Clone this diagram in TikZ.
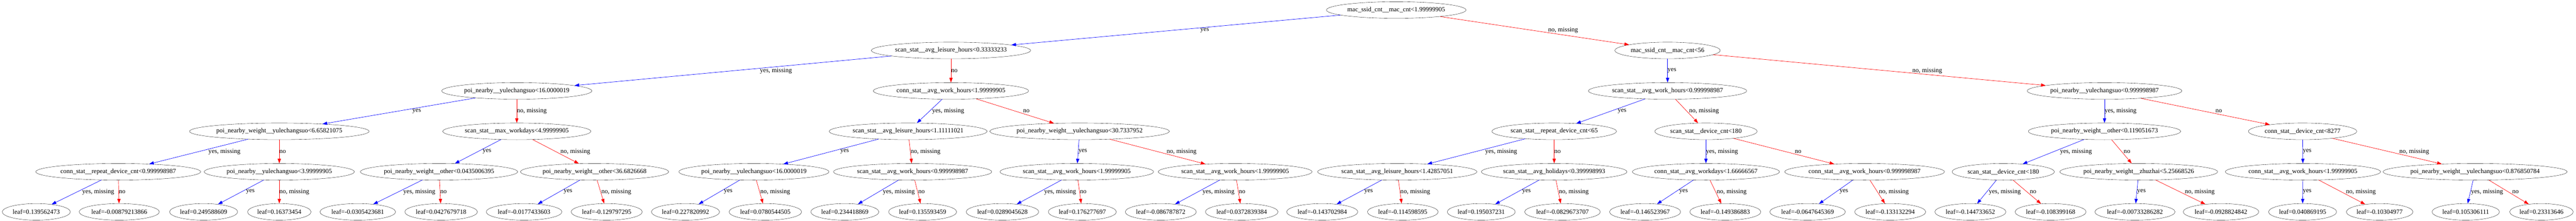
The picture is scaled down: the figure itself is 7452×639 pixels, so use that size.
\documentclass[tikz,border=0pt]{standalone}
\usepackage{fontspec}
\setmainfont{Liberation Serif}
\usetikzlibrary{arrows.meta,calc,shapes.geometric}

\newcommand{\treefont}{\fontsize{14pt}{16pt}\selectfont}
% parent, child, edge style, label
\newcommand{\treeedge}[4]{%
  \draw[#3] (#1) -- (#2);
  \path let \p1=(#1), \p2=(#2), \n1={0.06*abs(\x2-\x1)} in
    node[edgelbl, xshift=\n1] at ($(\p1)!0.5!(\p2)$) {#4};
}

\tikzset{
  split/.style={draw, ellipse, inner xsep=1pt, inner ysep=0pt, minimum height=36pt, font=\treefont},
  leafnode/.style={split},
  yesedge/.style={draw=blue, line width=0.75pt, -{Triangle[length=10pt,width=7pt]}},
  noedge/.style={draw=red, line width=0.75pt, -{Triangle[length=10pt,width=7pt]}},
  edgelbl/.style={anchor=west, inner sep=0pt, font=\treefont}
}

\begin{document}
\begin{tikzpicture}[x=0.75pt,y=-0.75pt]
  \useasboundingbox (0,0) rectangle (7452,639);
  \node[split] (0) at (4039,29) {mac\_ssid\_cnt\_\_mac\_cnt<1.99999905};
  \node[split] (1) at (2751,146) {scan\_stat\_\_avg\_leisure\_hours<0.33333233};
  \node[split] (2) at (4824,146) {mac\_ssid\_cnt\_\_mac\_cnt<56};
  \node[split] (3) at (1495,263) {poi\_nearby\_\_yulechangsuo<16.0000019};
  \node[split] (4) at (2751,263) {conn\_stat\_\_avg\_work\_hours<1.99999905};
  \node[split] (5) at (4824,263) {scan\_stat\_\_avg\_work\_hours<0.999998987};
  \node[split] (6) at (6088,263) {poi\_nearby\_\_yulechangsuo<0.999998987};
  \node[split] (7) at (808,380) {poi\_nearby\_weight\_\_yulechangsuo<6.65821075};
  \node[split] (8) at (1495,380) {scan\_stat\_\_max\_workdays<4.99999905};
  \node[split] (9) at (2627,380) {scan\_stat\_\_avg\_leisure\_hours<1.11111021};
  \node[split] (10) at (3123,380) {poi\_nearby\_weight\_\_yulechangsuo<30.7337952};
  \node[split] (11) at (4496,380) {scan\_stat\_\_repeat\_device\_cnt<65};
  \node[split] (12) at (4935,380) {scan\_stat\_\_device\_cnt<180};
  \node[split] (13) at (6088,380) {poi\_nearby\_weight\_\_other<0.119051673};
  \node[split] (14) at (6661,380) {conn\_stat\_\_device\_cnt<8277};
  \node[split] (15) at (342,497) {conn\_stat\_\_repeat\_device\_cnt<0.999998987};
  \node[split] (16) at (808,497) {poi\_nearby\_\_yulechangsuo<3.99999905};
  \node[split] (17) at (1270,497) {poi\_nearby\_weight\_\_other<0.0435006395};
  \node[split] (18) at (1720,497) {poi\_nearby\_weight\_\_other<36.6826668};
  \node[split] (19) at (2181,497) {poi\_nearby\_\_yulechangsuo<16.0000019};
  \node[split] (20) at (2640,497) {scan\_stat\_\_avg\_work\_hours<0.999998987};
  \node[split] (21) at (3115,497) {scan\_stat\_\_avg\_work\_hours<1.99999905};
  \node[split] (22) at (3573,497) {scan\_stat\_\_avg\_work\_hours<1.99999905};
  \node[split] (23) at (4042,497) {scan\_stat\_\_avg\_leisure\_hours<1.42857051};
  \node[split] (24) at (4496,497) {scan\_stat\_\_avg\_holidays<0.399998993};
  \node[split] (25) at (4935,497) {conn\_stat\_\_avg\_workdays<1.66666567};
  \node[split] (26) at (5394,497) {conn\_stat\_\_avg\_work\_hours<0.999998987};
  \node[split] (27) at (5795,497) {scan\_stat\_\_device\_cnt<180};
  \node[split] (28) at (6187,497) {poi\_nearby\_weight\_\_zhuzhai<5.25668526};
  \node[split] (29) at (6662,497) {conn\_stat\_\_avg\_work\_hours<1.99999905};
  \node[split] (30) at (7160,497) {poi\_nearby\_weight\_\_yulechangsuo<0.876850784};
  \node[leafnode] (31) at (105,613) {leaf=0.139562473};
  \node[leafnode] (32) at (345,613) {leaf=-0.00879213866};
  \node[leafnode] (33) at (589,613) {leaf=0.249588609};
  \node[leafnode] (34) at (808,613) {leaf=0.16373454};
  \node[leafnode] (35) at (1035,613) {leaf=-0.0305423681};
  \node[leafnode] (36) at (1276,613) {leaf=0.0427679718};
  \node[leafnode] (37) at (1516,613) {leaf=-0.0177433603};
  \node[leafnode] (38) at (1755,613) {leaf=-0.129797295};
  \node[leafnode] (39) at (1983,613) {leaf=0.227820992};
  \node[leafnode] (40) at (2214,613) {leaf=0.0780544505};
  \node[leafnode] (41) at (2444,613) {leaf=0.234418869};
  \node[leafnode] (42) at (2669,613) {leaf=0.135593459};
  \node[leafnode] (43) at (2900,613) {leaf=0.0289045628};
  \node[leafnode] (44) at (3131,613) {leaf=0.176277697};
  \node[leafnode] (45) at (3358,613) {leaf=-0.086787872};
  \node[leafnode] (46) at (3592,613) {leaf=0.0372839384};
  \node[leafnode] (47) at (3825,613) {leaf=-0.143702984};
  \node[leafnode] (48) at (4058,613) {leaf=-0.114598595};
  \node[leafnode] (49) at (4285,613) {leaf=0.195037231};
  \node[leafnode] (50) at (4520,613) {leaf=-0.0829673707};
  \node[leafnode] (51) at (4759,613) {leaf=-0.146523967};
  \node[leafnode] (52) at (4991,613) {leaf=-0.149386883};
  \node[leafnode] (53) at (5229,613) {leaf=-0.0647645369};
  \node[leafnode] (54) at (5468,613) {leaf=-0.133132294};
  \node[leafnode] (55) at (5700,613) {leaf=-0.144733652};
  \node[leafnode] (56) at (5932,613) {leaf=-0.108399168};
  \node[leafnode] (57) at (6176,613) {leaf=-0.00733286282};
  \node[leafnode] (58) at (6425,613) {leaf=-0.0928824842};
  \node[leafnode] (59) at (6661,613) {leaf=0.040869195};
  \node[leafnode] (60) at (6884,613) {leaf=-0.10304977};
  \node[leafnode] (61) at (7133,613) {leaf=0.105306111};
  \node[leafnode] (62) at (7352,613) {leaf=0.23313646};

  \treeedge{0}{1}{yesedge}{yes}
  \treeedge{0}{2}{noedge}{no, missing}
  \treeedge{1}{3}{yesedge}{yes, missing}
  \treeedge{1}{4}{noedge}{no}
  \treeedge{2}{5}{yesedge}{yes}
  \treeedge{2}{6}{noedge}{no, missing}
  \treeedge{3}{7}{yesedge}{yes}
  \treeedge{3}{8}{noedge}{no, missing}
  \treeedge{4}{9}{yesedge}{yes, missing}
  \treeedge{4}{10}{noedge}{no}
  \treeedge{5}{11}{yesedge}{yes}
  \treeedge{5}{12}{noedge}{no, missing}
  \treeedge{6}{13}{yesedge}{yes, missing}
  \treeedge{6}{14}{noedge}{no}
  \treeedge{7}{15}{yesedge}{yes, missing}
  \treeedge{7}{16}{noedge}{no}
  \treeedge{8}{17}{yesedge}{yes}
  \treeedge{8}{18}{noedge}{no, missing}
  \treeedge{9}{19}{yesedge}{yes}
  \treeedge{9}{20}{noedge}{no, missing}
  \treeedge{10}{21}{yesedge}{yes}
  \treeedge{10}{22}{noedge}{no, missing}
  \treeedge{11}{23}{yesedge}{yes, missing}
  \treeedge{11}{24}{noedge}{no}
  \treeedge{12}{25}{yesedge}{yes, missing}
  \treeedge{12}{26}{noedge}{no}
  \treeedge{13}{27}{yesedge}{yes, missing}
  \treeedge{13}{28}{noedge}{no}
  \treeedge{14}{29}{yesedge}{yes}
  \treeedge{14}{30}{noedge}{no, missing}
  \treeedge{15}{31}{yesedge}{yes, missing}
  \treeedge{15}{32}{noedge}{no}
  \treeedge{16}{33}{yesedge}{yes}
  \treeedge{16}{34}{noedge}{no, missing}
  \treeedge{17}{35}{yesedge}{yes, missing}
  \treeedge{17}{36}{noedge}{no}
  \treeedge{18}{37}{yesedge}{yes}
  \treeedge{18}{38}{noedge}{no, missing}
  \treeedge{19}{39}{yesedge}{yes}
  \treeedge{19}{40}{noedge}{no, missing}
  \treeedge{20}{41}{yesedge}{yes, missing}
  \treeedge{20}{42}{noedge}{no}
  \treeedge{21}{43}{yesedge}{yes, missing}
  \treeedge{21}{44}{noedge}{no}
  \treeedge{22}{45}{yesedge}{yes, missing}
  \treeedge{22}{46}{noedge}{no}
  \treeedge{23}{47}{yesedge}{yes}
  \treeedge{23}{48}{noedge}{no, missing}
  \treeedge{24}{49}{yesedge}{yes}
  \treeedge{24}{50}{noedge}{no, missing}
  \treeedge{25}{51}{yesedge}{yes}
  \treeedge{25}{52}{noedge}{no, missing}
  \treeedge{26}{53}{yesedge}{yes}
  \treeedge{26}{54}{noedge}{no, missing}
  \treeedge{27}{55}{yesedge}{yes, missing}
  \treeedge{27}{56}{noedge}{no}
  \treeedge{28}{57}{yesedge}{yes}
  \treeedge{28}{58}{noedge}{no, missing}
  \treeedge{29}{59}{yesedge}{yes}
  \treeedge{29}{60}{noedge}{no, missing}
  \treeedge{30}{61}{yesedge}{yes, missing}
  \treeedge{30}{62}{noedge}{no}
\end{tikzpicture}
\end{document}
